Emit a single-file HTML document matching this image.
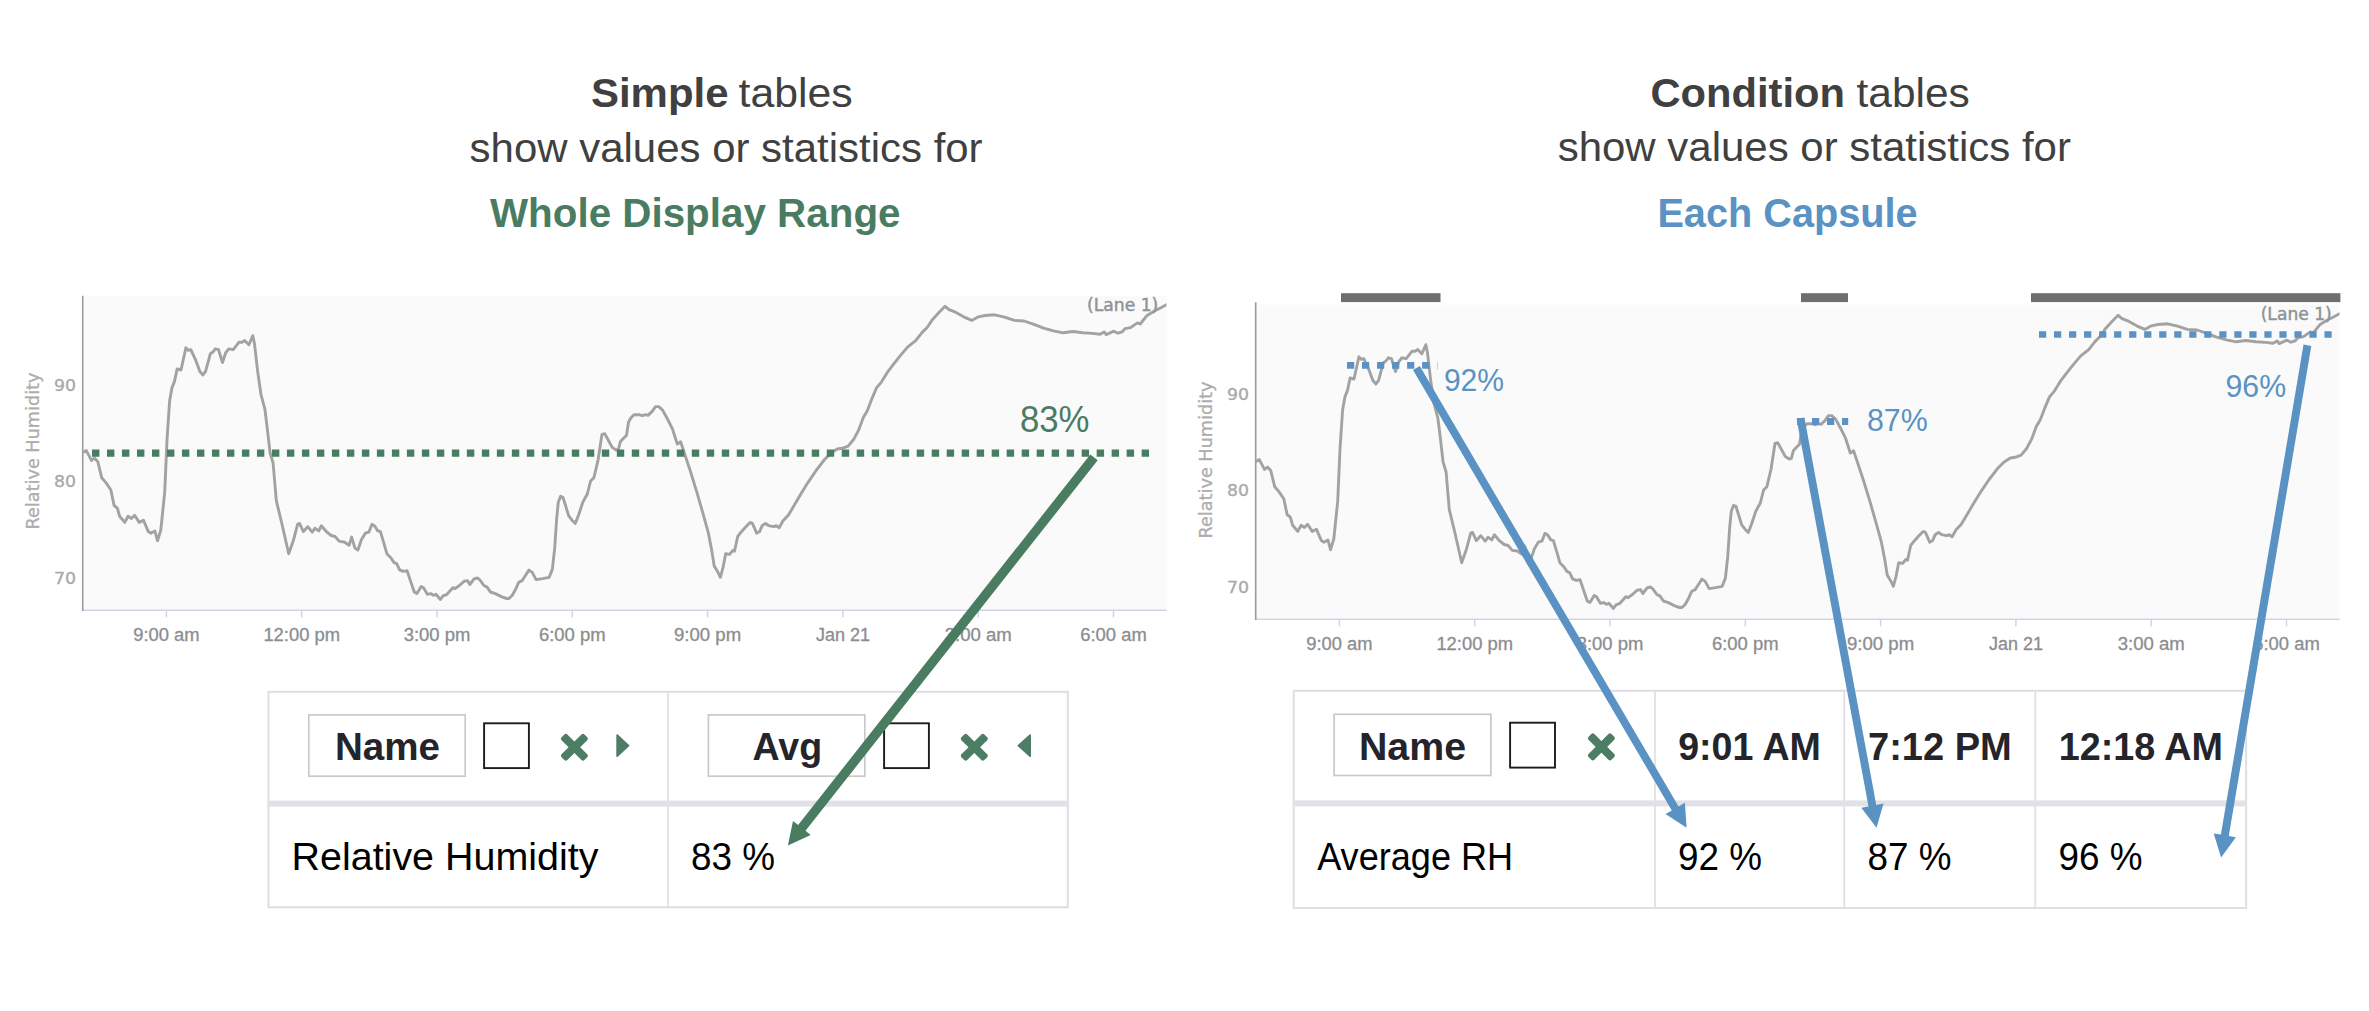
<!DOCTYPE html>
<html lang="en"><head><meta charset="utf-8"><title>Simple tables vs Condition tables</title>
<style>
html,body{margin:0;padding:0;background:#fff;}
body{width:2369px;height:1011px;overflow:hidden;}
svg{display:block;font-family:'Liberation Sans',sans-serif;}
</style></head><body>
<svg width="2369" height="1011" viewBox="0 0 2369 1011">
<rect width="2369" height="1011" fill="#fff"/>

<g id="titles">
<text x="591" y="107.4" font-size="40" fill="#404040" font-weight="bold" text-anchor="start" textLength="137.5" lengthAdjust="spacingAndGlyphs">Simple</text>
<text x="738.5" y="107.4" font-size="40" fill="#404040" font-weight="normal" text-anchor="start" textLength="114.2" lengthAdjust="spacingAndGlyphs">tables</text>
<text x="469.6" y="161.6" font-size="40" fill="#404040" font-weight="normal" text-anchor="start" textLength="513" lengthAdjust="spacingAndGlyphs">show values or statistics for</text>
<text x="490" y="227.3" font-size="40" fill="#4a7c62" font-weight="bold" text-anchor="start" textLength="410.5" lengthAdjust="spacingAndGlyphs">Whole Display Range</text>
<text x="1650.5" y="106.7" font-size="40" fill="#404040" font-weight="bold" text-anchor="start" textLength="194.5" lengthAdjust="spacingAndGlyphs">Condition</text>
<text x="1856.5" y="106.7" font-size="40" fill="#404040" font-weight="normal" text-anchor="start" textLength="113.2" lengthAdjust="spacingAndGlyphs">tables</text>
<text x="1557.7" y="161.1" font-size="40" fill="#404040" font-weight="normal" text-anchor="start" textLength="513.2" lengthAdjust="spacingAndGlyphs">show values or statistics for</text>
<text x="1657.4" y="226.6" font-size="40" fill="#5a92c3" font-weight="bold" text-anchor="start" textLength="260.3" lengthAdjust="spacingAndGlyphs">Each Capsule</text>
</g>
<g transform="translate(0,0)">
<rect x="82" y="295.8" width="1084.5" height="313.7" fill="#fafafa"/>
<line x1="82" y1="610.2" x2="1166.5" y2="610.2" stroke="#d2d3e6" stroke-width="1.5"/>
<line x1="166.4" y1="610.2" x2="166.4" y2="617.3" stroke="#d2d3e6" stroke-width="1.5"/>
<line x1="301.7" y1="610.2" x2="301.7" y2="617.3" stroke="#d2d3e6" stroke-width="1.5"/>
<line x1="437.0" y1="610.2" x2="437.0" y2="617.3" stroke="#d2d3e6" stroke-width="1.5"/>
<line x1="572.3" y1="610.2" x2="572.3" y2="617.3" stroke="#d2d3e6" stroke-width="1.5"/>
<line x1="707.6" y1="610.2" x2="707.6" y2="617.3" stroke="#d2d3e6" stroke-width="1.5"/>
<line x1="842.9" y1="610.2" x2="842.9" y2="617.3" stroke="#d2d3e6" stroke-width="1.5"/>
<line x1="978.2" y1="610.2" x2="978.2" y2="617.3" stroke="#d2d3e6" stroke-width="1.5"/>
<line x1="1113.5" y1="610.2" x2="1113.5" y2="617.3" stroke="#d2d3e6" stroke-width="1.5"/>
<line x1="82.7" y1="295.8" x2="82.7" y2="611" stroke="#9a9a9a" stroke-width="1.6"/>
<clipPath id="cp0"><rect x="82" y="295.8" width="1084.5" height="320"/></clipPath>
<polyline clip-path="url(#cp0)" points="83.1,452.3 86.3,450.6 91.5,460.4 94.5,458.1 97.7,461.4 101.7,477.7 105.9,482.6 110.8,489.8 114.1,505.5 117.3,508.1 119.6,516.2 124.8,522.4 128.1,516.2 131.4,518.5 134.6,515.3 139.2,522.4 143.5,520.2 148.3,531.6 151,533.2 154.9,530.9 157.5,540.7 160.8,530 164.7,492.4 167,440.2 169.6,401 171.9,387.9 174.5,381.4 177.1,369 181,370 185.9,347.8 188.2,350.4 190.8,349.7 195.7,360.2 199.9,371.6 202.9,374.9 205.5,371.6 210.4,353.7 213,352 215.3,348.8 218.5,349.7 222.5,362.5 225.7,352.7 229,348.8 233.2,349.7 239.1,342.2 242,342.2 244.7,340.6 248.9,344.8 252.8,335.7 254.5,343.9 257.7,371.6 261,394.5 264.9,409.2 267.5,430.4 270.1,453.2 273.1,463 276.3,500.6 282.2,525 288.7,553.8 293.6,539.7 297.6,524.4 299.5,523.4 303.4,531.6 307.7,526.7 312.2,532.2 314.9,528.3 318.8,530.9 321.4,525.7 326.3,531.6 331.2,535.5 335.1,536.5 339.3,541.4 344.2,542 349.1,545.3 351.6,537.1 354.9,547.9 357.8,550.2 361.4,539.8 365.3,533.2 368.9,532.2 371.9,524.4 374.5,525.7 377.8,530.9 380.4,531.6 384.3,544.7 386.9,553.8 390.8,557.7 394.1,562.6 396.7,563.6 399.6,569.8 403.2,571.4 407.1,570.8 410.4,580.6 414.3,592 416.9,593.6 421.2,586.4 423.5,587.7 427.4,594.3 430.6,593.6 433.3,595.3 435.9,594.3 440.4,599.5 443,595.9 447,594.3 452.8,587.7 455.1,588.7 459.4,585.5 464.3,581.2 467.5,580.6 469.8,584.5 474.1,578.9 477.3,578 479.6,579.6 483.9,585.5 487.1,587.1 490.4,592 495.3,593.6 501.8,596.9 506.7,598.5 509,598.5 512.3,595.3 515.9,588.7 518.8,582.2 522.1,580.6 525.3,575.7 528.9,570.1 532.2,572.4 536.1,579.6 542.6,578.6 549.2,577.3 552.4,569.1 554.7,547.9 556.7,518.5 558.3,502.2 560.6,496.3 562.9,497.3 565.5,505.5 568.7,515.9 572,520.2 575.3,523.4 578.5,515.3 582.8,502.2 587.3,494 590.6,481 593.9,477.7 598.1,459.8 602,434.3 604.7,433.6 607.9,439.5 612.2,447.4 616.1,450 618.4,449.3 620.3,441.8 623.3,438.5 626.5,435.3 628.5,422.2 630.8,418 634,414.7 638.9,414.7 642.2,415.7 645.5,414.7 648,415.4 652.2,411.4 655.5,406.6 658.7,406.6 662.6,410.1 667.5,419 672.4,428.8 677.3,444.1 680.6,441.8 683.9,451.6 690.4,471.2 696.9,492.4 703.5,515.3 708.4,533.2 711.6,549.6 714.2,565.9 717.5,571.4 720.4,577.3 723,567.5 725.7,553.8 729.6,554.4 732.8,550.5 734.5,551.2 737.7,536.5 741,532.2 745.9,526.7 750.1,522.4 752.4,523.4 756.7,533.2 759.6,531.6 762.2,525.7 765.5,523.4 768.8,525.7 773.6,526.7 776.3,525.7 779.2,527.7 782.8,521.1 788.3,515.3 793.2,507.1 799.8,495.7 807.9,482.6 816.1,470.5 824.3,459.8 830.8,453.2 837.3,449 842.2,448.3 848.1,446.1 853.6,439.5 858.5,430.4 863.4,417.3 867.3,410.8 871.6,399.4 876.5,387.9 881.4,382.1 887.9,371.6 892.8,365.1 899.3,356.9 907.5,347.1 915.7,340.6 922.2,332.4 927.1,327.5 932.6,319.4 939.2,312.2 945.1,306.3 949,309.6 955.5,312.2 963.7,316.8 971.8,320.4 978.4,316.8 984.9,315.5 994.7,314.8 1004.5,317.1 1014.3,320.4 1024.1,321 1033.9,324.3 1043.6,328.2 1053.4,330.8 1063.2,332.8 1073,331.5 1082.8,332.8 1092.6,333.4 1100,334.3 1104.2,331.9 1106.2,334.6 1113.9,331.2 1118,333.2 1122.2,331.8 1125,328.6 1130.5,327.6 1137.4,322.9 1140.2,324 1147.1,315.4 1154,311.2 1160.9,307.7 1166.4,304.8" fill="none" stroke="#a2a2a2" stroke-width="2.9" stroke-linejoin="round" stroke-linecap="round"/>
<text x="76" y="391.1" font-size="16" fill="#a8a8a8" font-weight="normal" text-anchor="end" textLength="22" lengthAdjust="spacingAndGlyphs" font-family="'DejaVu Sans',sans-serif" stroke="#a8a8a8" stroke-width="0.3">90</text>
<text x="76" y="487.3" font-size="16" fill="#a8a8a8" font-weight="normal" text-anchor="end" textLength="22" lengthAdjust="spacingAndGlyphs" font-family="'DejaVu Sans',sans-serif" stroke="#a8a8a8" stroke-width="0.3">80</text>
<text x="76" y="583.8" font-size="16" fill="#a8a8a8" font-weight="normal" text-anchor="end" textLength="22" lengthAdjust="spacingAndGlyphs" font-family="'DejaVu Sans',sans-serif" stroke="#a8a8a8" stroke-width="0.3">70</text>
<text transform="translate(38.5,451) rotate(-90)" font-size="18" fill="#adadad" stroke="#adadad" stroke-width="0.3" font-family="DejaVu Sans,sans-serif" text-anchor="middle" textLength="157" lengthAdjust="spacingAndGlyphs">Relative Humidity</text>
<text x="166.4" y="640.9" font-size="17.5" fill="#8b8d90" font-weight="normal" text-anchor="middle" textLength="66.39999999999999" lengthAdjust="spacingAndGlyphs" stroke="#8b8d90" stroke-width="0.3">9:00 am</text>
<text x="301.7" y="640.9" font-size="17.5" fill="#8b8d90" font-weight="normal" text-anchor="middle" textLength="76.6" lengthAdjust="spacingAndGlyphs" stroke="#8b8d90" stroke-width="0.3">12:00 pm</text>
<text x="437.0" y="640.9" font-size="17.5" fill="#8b8d90" font-weight="normal" text-anchor="middle" textLength="66.6" lengthAdjust="spacingAndGlyphs" stroke="#8b8d90" stroke-width="0.3">3:00 pm</text>
<text x="572.3" y="640.9" font-size="17.5" fill="#8b8d90" font-weight="normal" text-anchor="middle" textLength="66.6" lengthAdjust="spacingAndGlyphs" stroke="#8b8d90" stroke-width="0.3">6:00 pm</text>
<text x="707.6" y="640.9" font-size="17.5" fill="#8b8d90" font-weight="normal" text-anchor="middle" textLength="67.1" lengthAdjust="spacingAndGlyphs" stroke="#8b8d90" stroke-width="0.3">9:00 pm</text>
<text x="842.9" y="640.9" font-size="17.5" fill="#8b8d90" font-weight="normal" text-anchor="middle" textLength="54.0" lengthAdjust="spacingAndGlyphs" stroke="#8b8d90" stroke-width="0.3">Jan 21</text>
<text x="978.2" y="640.9" font-size="17.5" fill="#8b8d90" font-weight="normal" text-anchor="middle" textLength="67.1" lengthAdjust="spacingAndGlyphs" stroke="#8b8d90" stroke-width="0.3">3:00 am</text>
<text x="1113.5" y="640.9" font-size="17.5" fill="#8b8d90" font-weight="normal" text-anchor="middle" textLength="66.39999999999999" lengthAdjust="spacingAndGlyphs" stroke="#8b8d90" stroke-width="0.3">6:00 am</text>
<text x="1087" y="310.8" font-size="17.6" fill="#8f9296" font-weight="normal" text-anchor="start" textLength="71.29999999999995" lengthAdjust="spacingAndGlyphs" font-family="'DejaVu Sans',sans-serif" stroke="#8f9296" stroke-width="0.45">(Lane 1)</text>
</g>
<line x1="92" y1="453.15" x2="1149.5" y2="453.15" stroke="#4a7c62" stroke-width="7.4" stroke-dasharray="7.4 7.595"/>
<text x="1020" y="432" font-size="36" fill="#4a7c62" font-weight="normal" text-anchor="start" textLength="69.5" lengthAdjust="spacingAndGlyphs">83%</text>
<g transform="translate(1173,9)">
<rect x="82" y="295.6" width="1084.5" height="313.9" fill="#fafafa"/>
<line x1="82" y1="610.2" x2="1166.5" y2="610.2" stroke="#d2d3e6" stroke-width="1.5"/>
<line x1="166.4" y1="610.2" x2="166.4" y2="617.3" stroke="#d2d3e6" stroke-width="1.5"/>
<line x1="301.7" y1="610.2" x2="301.7" y2="617.3" stroke="#d2d3e6" stroke-width="1.5"/>
<line x1="437.0" y1="610.2" x2="437.0" y2="617.3" stroke="#d2d3e6" stroke-width="1.5"/>
<line x1="572.3" y1="610.2" x2="572.3" y2="617.3" stroke="#d2d3e6" stroke-width="1.5"/>
<line x1="707.6" y1="610.2" x2="707.6" y2="617.3" stroke="#d2d3e6" stroke-width="1.5"/>
<line x1="842.9" y1="610.2" x2="842.9" y2="617.3" stroke="#d2d3e6" stroke-width="1.5"/>
<line x1="978.2" y1="610.2" x2="978.2" y2="617.3" stroke="#d2d3e6" stroke-width="1.5"/>
<line x1="1113.5" y1="610.2" x2="1113.5" y2="617.3" stroke="#d2d3e6" stroke-width="1.5"/>
<line x1="82.7" y1="293.3" x2="82.7" y2="611" stroke="#9a9a9a" stroke-width="1.6"/>
<clipPath id="cp1173"><rect x="82" y="295.6" width="1084.5" height="320"/></clipPath>
<polyline clip-path="url(#cp1173)" points="83.1,452.3 86.3,450.6 91.5,460.4 94.5,458.1 97.7,461.4 101.7,477.7 105.9,482.6 110.8,489.8 114.1,505.5 117.3,508.1 119.6,516.2 124.8,522.4 128.1,516.2 131.4,518.5 134.6,515.3 139.2,522.4 143.5,520.2 148.3,531.6 151,533.2 154.9,530.9 157.5,540.7 160.8,530 164.7,492.4 167,440.2 169.6,401 171.9,387.9 174.5,381.4 177.1,369 181,370 185.9,347.8 188.2,350.4 190.8,349.7 195.7,360.2 199.9,371.6 202.9,374.9 205.5,371.6 210.4,353.7 213,352 215.3,348.8 218.5,349.7 222.5,362.5 225.7,352.7 229,348.8 233.2,349.7 239.1,342.2 242,342.2 244.7,340.6 248.9,344.8 252.8,335.7 254.5,343.9 257.7,371.6 261,394.5 264.9,409.2 267.5,430.4 270.1,453.2 273.1,463 276.3,500.6 282.2,525 288.7,553.8 293.6,539.7 297.6,524.4 299.5,523.4 303.4,531.6 307.7,526.7 312.2,532.2 314.9,528.3 318.8,530.9 321.4,525.7 326.3,531.6 331.2,535.5 335.1,536.5 339.3,541.4 344.2,542 349.1,545.3 351.6,537.1 354.9,547.9 357.8,550.2 361.4,539.8 365.3,533.2 368.9,532.2 371.9,524.4 374.5,525.7 377.8,530.9 380.4,531.6 384.3,544.7 386.9,553.8 390.8,557.7 394.1,562.6 396.7,563.6 399.6,569.8 403.2,571.4 407.1,570.8 410.4,580.6 414.3,592 416.9,593.6 421.2,586.4 423.5,587.7 427.4,594.3 430.6,593.6 433.3,595.3 435.9,594.3 440.4,599.5 443,595.9 447,594.3 452.8,587.7 455.1,588.7 459.4,585.5 464.3,581.2 467.5,580.6 469.8,584.5 474.1,578.9 477.3,578 479.6,579.6 483.9,585.5 487.1,587.1 490.4,592 495.3,593.6 501.8,596.9 506.7,598.5 509,598.5 512.3,595.3 515.9,588.7 518.8,582.2 522.1,580.6 525.3,575.7 528.9,570.1 532.2,572.4 536.1,579.6 542.6,578.6 549.2,577.3 552.4,569.1 554.7,547.9 556.7,518.5 558.3,502.2 560.6,496.3 562.9,497.3 565.5,505.5 568.7,515.9 572,520.2 575.3,523.4 578.5,515.3 582.8,502.2 587.3,494 590.6,481 593.9,477.7 598.1,459.8 602,434.3 604.7,433.6 607.9,439.5 612.2,447.4 616.1,450 618.4,449.3 620.3,441.8 623.3,438.5 626.5,435.3 628.5,422.2 630.8,418 634,414.7 638.9,414.7 642.2,415.7 645.5,414.7 648,415.4 652.2,411.4 655.5,406.6 658.7,406.6 662.6,410.1 667.5,419 672.4,428.8 677.3,444.1 680.6,441.8 683.9,451.6 690.4,471.2 696.9,492.4 703.5,515.3 708.4,533.2 711.6,549.6 714.2,565.9 717.5,571.4 720.4,577.3 723,567.5 725.7,553.8 729.6,554.4 732.8,550.5 734.5,551.2 737.7,536.5 741,532.2 745.9,526.7 750.1,522.4 752.4,523.4 756.7,533.2 759.6,531.6 762.2,525.7 765.5,523.4 768.8,525.7 773.6,526.7 776.3,525.7 779.2,527.7 782.8,521.1 788.3,515.3 793.2,507.1 799.8,495.7 807.9,482.6 816.1,470.5 824.3,459.8 830.8,453.2 837.3,449 842.2,448.3 848.1,446.1 853.6,439.5 858.5,430.4 863.4,417.3 867.3,410.8 871.6,399.4 876.5,387.9 881.4,382.1 887.9,371.6 892.8,365.1 899.3,356.9 907.5,347.1 915.7,340.6 922.2,332.4 927.1,327.5 932.6,319.4 939.2,312.2 945.1,306.3 949,309.6 955.5,312.2 963.7,316.8 971.8,320.4 978.4,316.8 984.9,315.5 994.7,314.8 1004.5,317.1 1014.3,320.4 1024.1,321 1033.9,324.3 1043.6,328.2 1053.4,330.8 1063.2,332.8 1073,331.5 1082.8,332.8 1092.6,333.4 1100,334.3 1104.2,331.9 1106.2,334.6 1113.9,331.2 1118,333.2 1122.2,331.8 1125,328.6 1130.5,327.6 1137.4,322.9 1140.2,324 1147.1,315.4 1154,311.2 1160.9,307.7 1166.4,304.8" fill="none" stroke="#a2a2a2" stroke-width="2.9" stroke-linejoin="round" stroke-linecap="round"/>
<text x="76" y="391.1" font-size="16" fill="#a8a8a8" font-weight="normal" text-anchor="end" textLength="22" lengthAdjust="spacingAndGlyphs" font-family="'DejaVu Sans',sans-serif" stroke="#a8a8a8" stroke-width="0.3">90</text>
<text x="76" y="487.3" font-size="16" fill="#a8a8a8" font-weight="normal" text-anchor="end" textLength="22" lengthAdjust="spacingAndGlyphs" font-family="'DejaVu Sans',sans-serif" stroke="#a8a8a8" stroke-width="0.3">80</text>
<text x="76" y="583.8" font-size="16" fill="#a8a8a8" font-weight="normal" text-anchor="end" textLength="22" lengthAdjust="spacingAndGlyphs" font-family="'DejaVu Sans',sans-serif" stroke="#a8a8a8" stroke-width="0.3">70</text>
<text transform="translate(38.5,451) rotate(-90)" font-size="18" fill="#adadad" stroke="#adadad" stroke-width="0.3" font-family="DejaVu Sans,sans-serif" text-anchor="middle" textLength="157" lengthAdjust="spacingAndGlyphs">Relative Humidity</text>
<text x="166.4" y="640.9" font-size="17.5" fill="#8b8d90" font-weight="normal" text-anchor="middle" textLength="66.39999999999999" lengthAdjust="spacingAndGlyphs" stroke="#8b8d90" stroke-width="0.3">9:00 am</text>
<text x="301.7" y="640.9" font-size="17.5" fill="#8b8d90" font-weight="normal" text-anchor="middle" textLength="76.6" lengthAdjust="spacingAndGlyphs" stroke="#8b8d90" stroke-width="0.3">12:00 pm</text>
<text x="437.0" y="640.9" font-size="17.5" fill="#8b8d90" font-weight="normal" text-anchor="middle" textLength="66.6" lengthAdjust="spacingAndGlyphs" stroke="#8b8d90" stroke-width="0.3">3:00 pm</text>
<text x="572.3" y="640.9" font-size="17.5" fill="#8b8d90" font-weight="normal" text-anchor="middle" textLength="66.6" lengthAdjust="spacingAndGlyphs" stroke="#8b8d90" stroke-width="0.3">6:00 pm</text>
<text x="707.6" y="640.9" font-size="17.5" fill="#8b8d90" font-weight="normal" text-anchor="middle" textLength="67.1" lengthAdjust="spacingAndGlyphs" stroke="#8b8d90" stroke-width="0.3">9:00 pm</text>
<text x="842.9" y="640.9" font-size="17.5" fill="#8b8d90" font-weight="normal" text-anchor="middle" textLength="54.0" lengthAdjust="spacingAndGlyphs" stroke="#8b8d90" stroke-width="0.3">Jan 21</text>
<text x="978.2" y="640.9" font-size="17.5" fill="#8b8d90" font-weight="normal" text-anchor="middle" textLength="67.1" lengthAdjust="spacingAndGlyphs" stroke="#8b8d90" stroke-width="0.3">3:00 am</text>
<text x="1113.5" y="640.9" font-size="17.5" fill="#8b8d90" font-weight="normal" text-anchor="middle" textLength="66.39999999999999" lengthAdjust="spacingAndGlyphs" stroke="#8b8d90" stroke-width="0.3">6:00 am</text>
<text x="1087.7" y="310.8" font-size="17.6" fill="#8f9296" font-weight="normal" text-anchor="start" textLength="71.09999999999991" lengthAdjust="spacingAndGlyphs" font-family="'DejaVu Sans',sans-serif" stroke="#8f9296" stroke-width="0.45">(Lane 1)</text>
</g>
<rect x="1341" y="293.2" width="99.5" height="8.9" fill="#6d6e70"/>
<rect x="1801" y="293.2" width="47" height="8.9" fill="#6d6e70"/>
<rect x="2031" y="293.2" width="309.4000000000001" height="8.9" fill="#6d6e70"/>
<line x1="1347" y1="365.4" x2="1429.4" y2="365.4" stroke="#5a92c3" stroke-width="6.8" stroke-dasharray="7.2 7.82"/>
<line x1="1797" y1="421.5" x2="1848.2" y2="421.5" stroke="#5a92c3" stroke-width="6.9" stroke-dasharray="7.2 7.82"/>
<line x1="2039" y1="334.5" x2="2331.8" y2="334.5" stroke="#5a92c3" stroke-width="6.7" stroke-dasharray="7.2 7.825"/>
<line x1="1437.5" y1="362" x2="1437.5" y2="369.5" stroke="#bcd3e8" stroke-width="1"/>
<text x="1443.9" y="390.8" font-size="30.8" fill="#5a92c3" font-weight="normal" text-anchor="start" textLength="60.2" lengthAdjust="spacingAndGlyphs">92%</text>
<text x="1866.9" y="431.1" font-size="30.8" fill="#5a92c3" font-weight="normal" text-anchor="start" textLength="60.8" lengthAdjust="spacingAndGlyphs">87%</text>
<text x="2225.5" y="397" font-size="30.8" fill="#5a92c3" font-weight="normal" text-anchor="start" textLength="60.6" lengthAdjust="spacingAndGlyphs">96%</text>
<g id="table-left">
<rect x="268.5" y="691.8" width="799.3" height="215.5" fill="#fff" stroke="#dedee4" stroke-width="2"/>
<line x1="668" y1="691" x2="668" y2="908" stroke="#dedee4" stroke-width="1.7"/>
<rect x="267.5" y="800.6" width="801.3" height="6" fill="#e1e1e7"/>
<rect x="308.8" y="714.9" width="156.4" height="61.3" fill="#fff" stroke="#c9c9c9" stroke-width="1.7"/>
<text x="335" y="760.2" font-size="38" fill="#24242a" font-weight="bold" text-anchor="start" textLength="105" lengthAdjust="spacingAndGlyphs">Name</text>
<rect x="484.1" y="723.3" width="44.8" height="44.8" fill="#fff" stroke="#1c1c1c" stroke-width="1.9"/>
<g fill="#4d7e65" transform="translate(574.4,747.25)"><rect x="-16.2" y="-4.1" width="32.4" height="8.2" rx="2.1" transform="rotate(45)"/><rect x="-16.2" y="-4.1" width="32.4" height="8.2" rx="2.1" transform="rotate(-45)"/></g>
<path d="M617.2 735.2 L628.5 745.7 L617.2 756.2 Z" fill="#4d7e65" stroke="#4d7e65" stroke-width="1.8" stroke-linejoin="round"/>
<rect x="708.4" y="714.9" width="156.4" height="61.3" fill="#fff" stroke="#c9c9c9" stroke-width="1.7"/>
<text x="752.5" y="760.2" font-size="38" fill="#24242a" font-weight="bold" text-anchor="start" textLength="69.6" lengthAdjust="spacingAndGlyphs">Avg</text>
<rect x="884.1" y="723.3" width="44.8" height="44.8" fill="#fff" stroke="#1c1c1c" stroke-width="1.9"/>
<g fill="#4d7e65" transform="translate(974.3000000000001,747.25)"><rect x="-16.2" y="-4.1" width="32.4" height="8.2" rx="2.1" transform="rotate(45)"/><rect x="-16.2" y="-4.1" width="32.4" height="8.2" rx="2.1" transform="rotate(-45)"/></g>
<path d="M1030.1 735.2 L1018.4 745.7 L1030.1 756.2 Z" fill="#4d7e65" stroke="#4d7e65" stroke-width="1.8" stroke-linejoin="round"/>
<text x="291.5" y="869.9" font-size="38.5" fill="#000" font-weight="normal" text-anchor="start" textLength="307" lengthAdjust="spacingAndGlyphs">Relative Humidity</text>
<text x="691" y="869.9" font-size="38.5" fill="#000" font-weight="normal" text-anchor="start" textLength="84" lengthAdjust="spacingAndGlyphs">83 %</text>
</g>
<g id="table-right">
<rect x="1293.7" y="690.8" width="952.4" height="217.2" fill="#fff" stroke="#dedee4" stroke-width="2"/>
<line x1="1655" y1="690" x2="1655" y2="908.8" stroke="#dedee4" stroke-width="1.7"/>
<line x1="1844.3" y1="690" x2="1844.3" y2="908.8" stroke="#dedee4" stroke-width="1.7"/>
<line x1="2035.3" y1="690" x2="2035.3" y2="908.8" stroke="#dedee4" stroke-width="1.7"/>
<rect x="1292.7" y="800.4" width="954.4" height="6" fill="#e1e1e7"/>
<rect x="1334.1" y="714.3" width="156.8" height="61.2" fill="#fff" stroke="#c9c9c9" stroke-width="1.7"/>
<text x="1359" y="759.7" font-size="38" fill="#24242a" font-weight="bold" text-anchor="start" textLength="107" lengthAdjust="spacingAndGlyphs">Name</text>
<rect x="1510.1" y="722.7" width="44.9" height="44.9" fill="#fff" stroke="#1c1c1c" stroke-width="1.9"/>
<g fill="#4d7e65" transform="translate(1601.3999999999999,746.85)"><rect x="-16.2" y="-4.1" width="32.4" height="8.2" rx="2.1" transform="rotate(45)"/><rect x="-16.2" y="-4.1" width="32.4" height="8.2" rx="2.1" transform="rotate(-45)"/></g>
<text x="1678.2" y="759.7" font-size="38" fill="#24242a" font-weight="bold" text-anchor="start" textLength="142.6" lengthAdjust="spacingAndGlyphs">9:01 AM</text>
<text x="1868" y="759.7" font-size="38" fill="#24242a" font-weight="bold" text-anchor="start" textLength="143.8" lengthAdjust="spacingAndGlyphs">7:12 PM</text>
<text x="2058.8" y="759.7" font-size="38" fill="#24242a" font-weight="bold" text-anchor="start" textLength="164.2" lengthAdjust="spacingAndGlyphs">12:18 AM</text>
<text x="1317.2" y="870" font-size="38.5" fill="#000" font-weight="normal" text-anchor="start" textLength="196" lengthAdjust="spacingAndGlyphs">Average RH</text>
<text x="1678" y="870" font-size="38.5" fill="#000" font-weight="normal" text-anchor="start" textLength="84" lengthAdjust="spacingAndGlyphs">92 %</text>
<text x="1867.5" y="870" font-size="38.5" fill="#000" font-weight="normal" text-anchor="start" textLength="84" lengthAdjust="spacingAndGlyphs">87 %</text>
<text x="2058.5" y="870" font-size="38.5" fill="#000" font-weight="normal" text-anchor="start" textLength="84" lengthAdjust="spacingAndGlyphs">96 %</text>
</g>
<g id="arrows">
<polygon fill="#4a7c62" points="1090.3,454.4 798.1,825.0 793.0,821.0 787.9,845.6 810.7,834.9 805.5,830.8 1097.7,460.2"/>
<polygon fill="#5a92c3" points="1413.0,370.1 1671.8,810.4 1665.5,814.1 1686.6,827.8 1684.9,802.7 1678.6,806.4 1419.8,366.1"/>
<polygon fill="#5a92c3" points="1796.6,419.0 1868.5,806.4 1861.3,807.7 1876.5,827.8 1883.5,803.6 1876.3,804.9 1804.4,417.6"/>
<polygon fill="#5a92c3" points="2303.5,344.6 2220.9,834.6 2213.7,833.4 2221.1,857.5 2235.9,837.2 2228.8,836.0 2311.3,346.0"/>
</g>
</svg>
</body></html>
